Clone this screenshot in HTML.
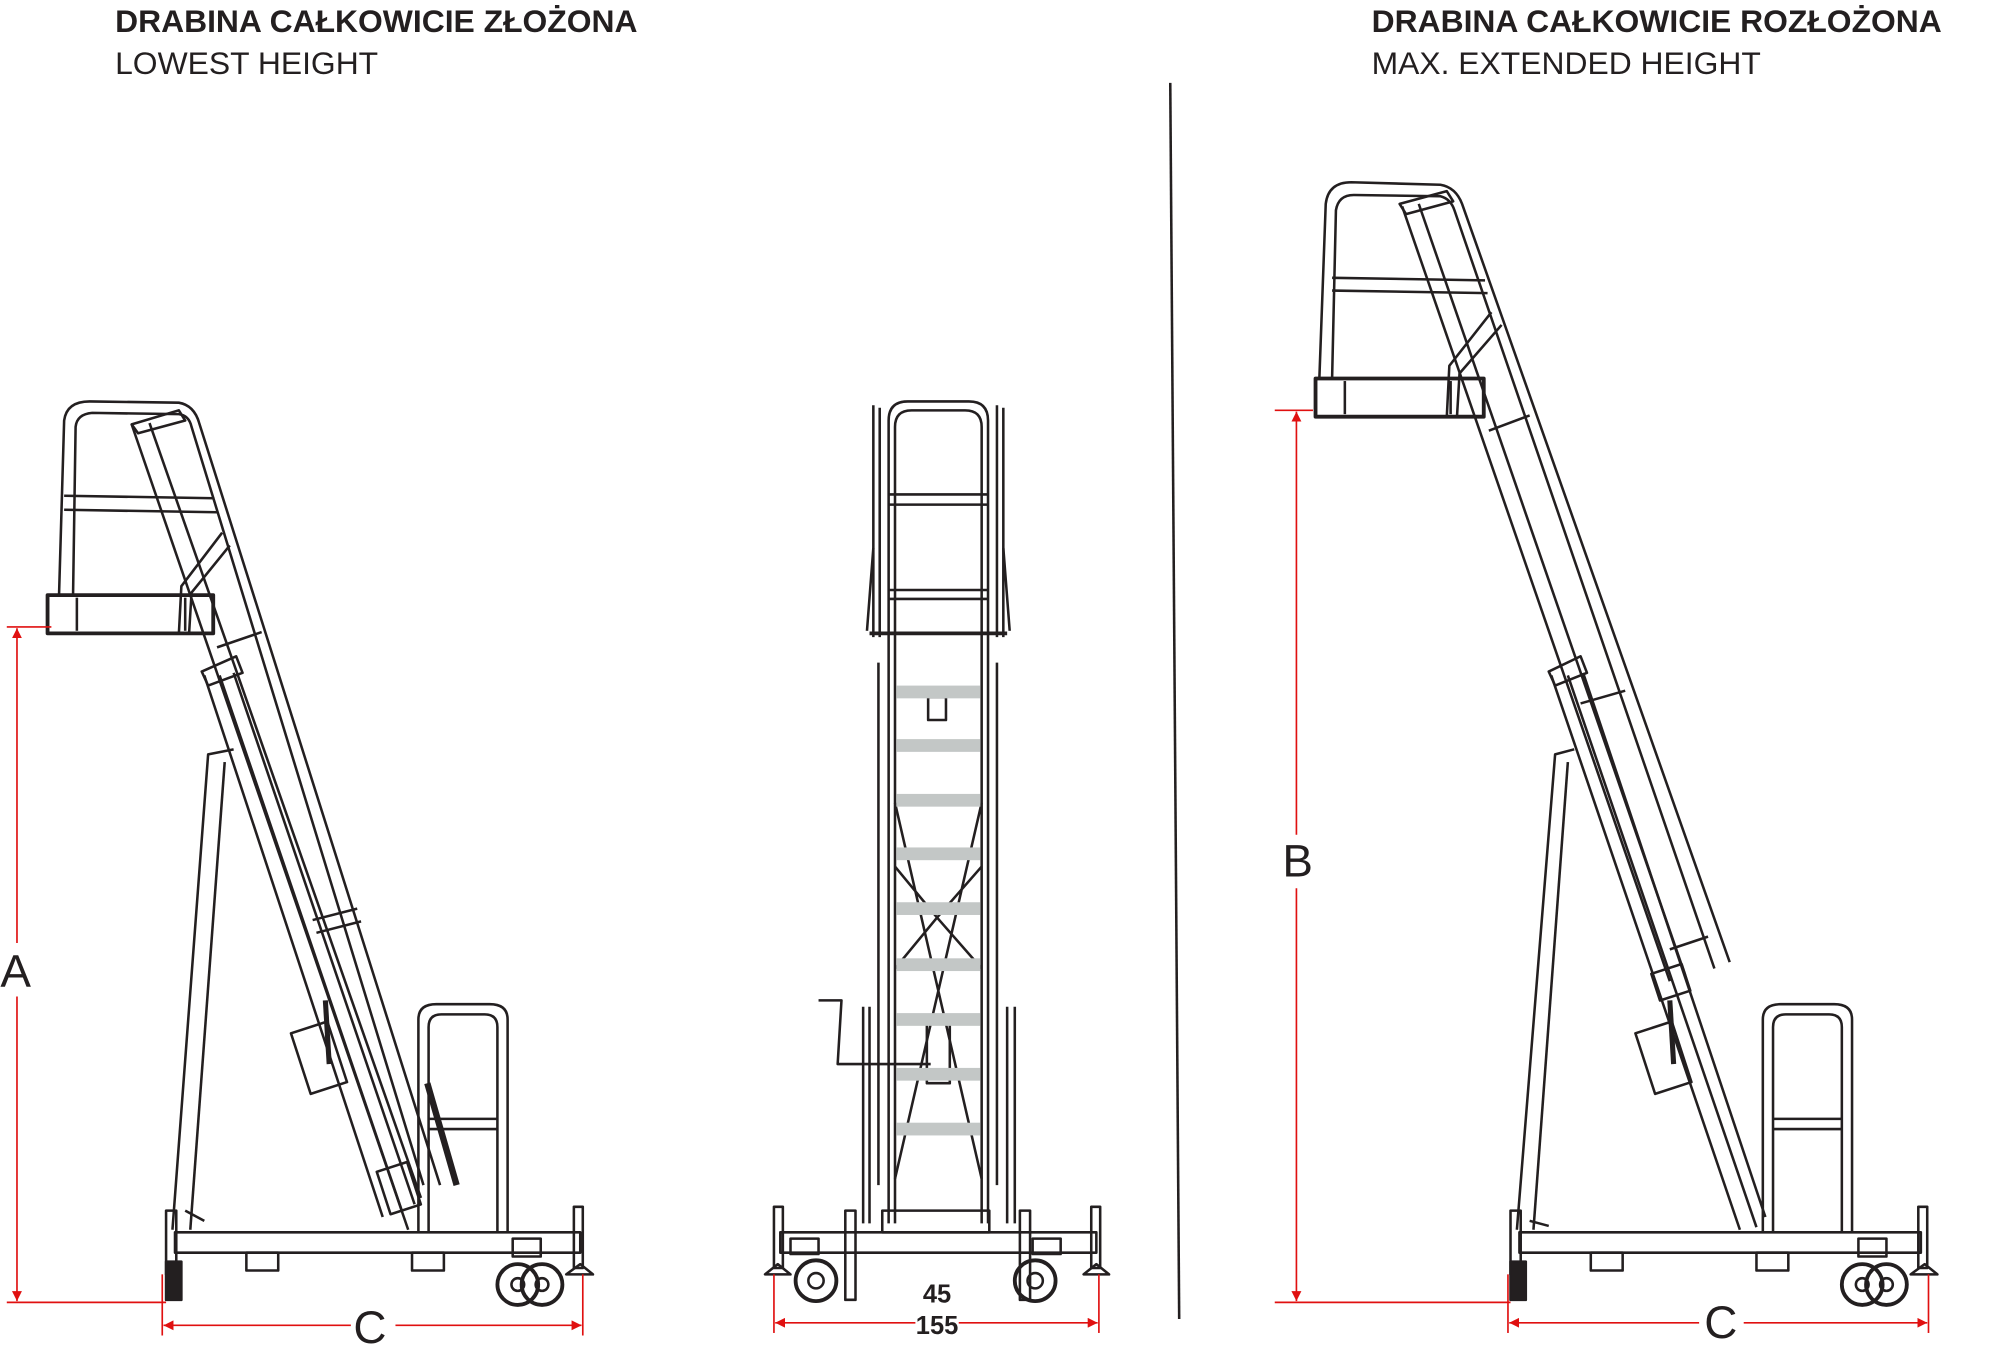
<!DOCTYPE html>
<html><head><meta charset="utf-8"><style>
html,body{margin:0;padding:0;background:#fff}
svg{display:block}
text{font-family:"Liberation Sans",sans-serif;fill:#231f20}
</style></head><body>
<svg width="1999" height="1361" viewBox="0 0 1568 1068" xmlns="http://www.w3.org/2000/svg">
<defs>
<marker id="ar" viewBox="0 0 10 10" refX="10" refY="5" markerWidth="6" markerHeight="6" orient="auto-start-reverse"><path d="M0,0L10,5L0,10z" fill="#e01010"/></marker>
</defs>
<text x="90" y="25" font-size="25" font-weight="bold">DRABINA CAŁKOWICIE ZŁOŻONA</text>
<text x="90" y="58" font-size="25">LOWEST HEIGHT</text>
<text x="1076" y="25" font-size="25" font-weight="bold">DRABINA CAŁKOWICIE ROZŁOŻONA</text>
<text x="1076" y="58" font-size="25">MAX. EXTENDED HEIGHT</text>
<line x1="918" y1="65" x2="925" y2="1035" stroke="#231f20" stroke-width="2"/>

<g fill="none" stroke="#231f20" stroke-width="2" stroke-linejoin="round">
<g id="L">
<path d="M46,467 L50,330 Q52,315 70,315 L140,316 Q152,318 156,332 L345,930"/>
<path d="M57,467 L59,335 Q60,325 72,324 L140,325 Q148,326 150,335 L332,930"/>
<path d="M103,333 L140,322 L145,330 L108,340z"/>
<line x1="103" y1="333" x2="320" y2="965"/>
<line x1="117" y1="332" x2="330" y2="940"/>
<line x1="50" y1="389" x2="168" y2="391"/><line x1="50" y1="400" x2="170" y2="402"/>
<path d="M180,428 L150,465 L148,498"/><path d="M174,418 L142,460 L140,498"/>
<rect x="37" y="467" width="130" height="30" stroke-width="3"/>
<line x1="60" y1="469" x2="60" y2="495"/><line x1="145" y1="469" x2="145" y2="495"/>
<path d="M158,527 L185,515 L190,528 L163,538z"/>
<line x1="160" y1="530" x2="300" y2="955"/><line x1="172" y1="530" x2="315" y2="950"/><line x1="183" y1="528" x2="325" y2="945"/>
<path d="M183,588 L163,592 L135,965"/><path d="M176,598 L149,965"/>
<path d="M245,722 L280,713"/><path d="M248,732 L283,723"/>
<path d="M170,508 L205,496"/>
<rect x="235" y="805" width="30" height="50" transform="rotate(-18 250 830)"/>
<line x1="255" y1="785" x2="258" y2="835" stroke-width="4"/>
<path d="M335,850 L358,930" stroke-width="5"/>
<rect x="300" y="915" width="25" height="35" transform="rotate(-18 312 932)"/>
<path d="M328,967 L328,800 Q328,788 342,788 L384,788 Q398,788 398,800 L398,967"/>
<path d="M336,967 L336,806 Q336,796 346,796 L380,796 Q390,796 390,806 L390,967"/>
<line x1="336" y1="878" x2="390" y2="878"/><line x1="336" y1="886" x2="390" y2="886"/>
<rect x="137" y="967" width="318" height="16"/>
<rect x="193" y="983" width="25" height="14"/><rect x="323" y="983" width="25" height="14"/>
<rect x="130" y="950" width="8" height="50"/><line x1="145" y1="950" x2="160" y2="958"/>
<rect x="450" y="947" width="7" height="48"/><path d="M444,1000 L465,1000 L455,992z"/>
<circle cx="406" cy="1008" r="16" stroke-width="3"/><circle cx="425" cy="1008" r="16" stroke-width="3"/>
<circle cx="406" cy="1008" r="5"/><circle cx="425" cy="1008" r="5"/>
<rect x="402" y="972" width="22" height="14"/>
<rect x="130" y="990" width="12" height="30" fill="#231f20"/>
</g>

<path d="M685,500 L685,318 M690,500 L690,320 M782,500 L782,318 M787,500 L787,320"/>
<path d="M697,960 L697,330 Q697,315 712,315 L760,315 Q775,315 775,330 L775,960"/>
<path d="M702,960 L702,335 Q702,322 715,322 L757,322 Q770,322 770,335 L770,960"/>
<line x1="697" y1="388" x2="775" y2="388"/><line x1="697" y1="396" x2="775" y2="396"/>
<line x1="697" y1="463" x2="775" y2="463"/><line x1="697" y1="470" x2="775" y2="470"/>
<line x1="682" y1="497" x2="790" y2="497" stroke-width="3"/>
<path d="M685,430 L680,495 M787,430 L792,495"/>
<path d="M689,520 L689,930 M782,520 L782,930"/>
<path d="M702,630 L770,925 M770,630 L702,925 M702,680 L735,720 L770,680 M702,760 L735,720 L770,760"/>
<rect x="728" y="547" width="14" height="18"/>
<path d="M642,785 L660,785 L657,835 L730,835"/>
<rect x="727" y="800" width="18" height="50"/>
<line x1="677" y1="790" x2="677" y2="960"/><line x1="682" y1="790" x2="682" y2="960"/>
<line x1="790" y1="790" x2="790" y2="960"/><line x1="796" y1="790" x2="796" y2="960"/>
<rect x="612" y="967" width="248" height="16"/>
<rect x="692" y="950" width="84" height="17"/>
<rect x="607" y="947" width="7" height="48"/><rect x="856" y="947" width="7" height="48"/>
<path d="M600,1000 L620,1000 L610,992z M850,1000 L870,1000 L860,992z"/>
<rect x="663" y="950" width="8" height="70"/><rect x="800" y="950" width="8" height="70"/>
<circle cx="640" cy="1005" r="16" stroke-width="3"/><circle cx="812" cy="1005" r="16" stroke-width="3"/>
<circle cx="640" cy="1005" r="6"/><circle cx="812" cy="1005" r="6"/>
<rect x="620" y="972" width="22" height="12"/><rect x="810" y="972" width="22" height="12"/>
</g>
<g fill="#c3c7c6">
<rect x="703" y="538" width="66" height="10"/><rect x="703" y="580" width="66" height="10"/>
<rect x="703" y="623" width="66" height="10"/><rect x="703" y="665" width="66" height="10"/>
<rect x="703" y="708" width="66" height="10"/><rect x="703" y="752" width="66" height="10"/>
<rect x="703" y="795" width="66" height="10"/><rect x="703" y="838" width="66" height="10"/>
<rect x="703" y="881" width="66" height="10"/>
</g>

<g fill="none" stroke="#231f20" stroke-width="2" stroke-linejoin="round">
<path d="M1035,297 L1040,160 Q1042,143 1060,143 L1130,145 Q1142,147 1147,160 L1357,755"/>
<path d="M1045,297 L1048,165 Q1050,153 1062,153 L1130,154 Q1138,156 1141,165 L1345,760"/>
<path d="M1098,160 L1135,150 L1140,158 L1103,168z"/>
<line x1="1100" y1="162" x2="1310" y2="770"/><line x1="1113" y1="160" x2="1322" y2="765"/>
<line x1="1045" y1="218" x2="1165" y2="220"/><line x1="1045" y1="228" x2="1167" y2="230"/>
<path d="M1178,255 L1145,293 L1143,327"/><path d="M1170,245 L1137,287 L1135,327"/>
<rect x="1032" y="297" width="132" height="30" stroke-width="3"/>
<line x1="1055" y1="299" x2="1055" y2="325"/><line x1="1138" y1="299" x2="1138" y2="325"/>
<path d="M1168,338 L1200,326"/>
<path d="M1215,527 L1240,515 L1245,528 L1220,538z"/>
<line x1="1217" y1="530" x2="1365" y2="965"/><line x1="1230" y1="530" x2="1378" y2="963"/><line x1="1242" y1="528" x2="1385" y2="955"/>
<path d="M1235,588 L1220,592 L1190,965"/><path d="M1230,598 L1203,965"/>
<path d="M1240,552 L1275,542"/><path d="M1310,745 L1340,735"/>
<rect x="1298" y="760" width="25" height="22" transform="rotate(-18 1310 770)"/>
<rect x="1290" y="805" width="30" height="50" transform="rotate(-18 1305 830)"/>
<line x1="1310" y1="785" x2="1313" y2="835" stroke-width="4"/>
<path d="M1383,967 L1383,800 Q1383,788 1397,788 L1439,788 Q1453,788 1453,800 L1453,967"/>
<path d="M1391,967 L1391,806 Q1391,796 1401,796 L1435,796 Q1445,796 1445,806 L1445,967"/>
<line x1="1391" y1="878" x2="1445" y2="878"/><line x1="1391" y1="886" x2="1445" y2="886"/>
<rect x="1192" y="967" width="315" height="16"/>
<rect x="1248" y="983" width="25" height="14"/><rect x="1378" y="983" width="25" height="14"/>
<rect x="1185" y="950" width="8" height="50"/><line x1="1200" y1="958" x2="1215" y2="962"/>
<rect x="1505" y="947" width="7" height="48"/><path d="M1499,1000 L1520,1000 L1510,992z"/>
<circle cx="1461" cy="1008" r="16" stroke-width="3"/><circle cx="1480" cy="1008" r="16" stroke-width="3"/>
<circle cx="1461" cy="1008" r="5"/><circle cx="1480" cy="1008" r="5"/>
<rect x="1458" y="972" width="22" height="14"/>
<rect x="1185" y="990" width="12" height="30" fill="#231f20"/>
</g>

<g stroke="#e01010" stroke-width="1.3" fill="none">
<line x1="5" y1="492" x2="40" y2="492"/><line x1="5" y1="1022" x2="130" y2="1022"/>
<line x1="13" y1="493" x2="13" y2="740" marker-start="url(#ar)"/><line x1="13" y1="782" x2="13" y2="1021" marker-end="url(#ar)"/>
<line x1="127" y1="1000" x2="127" y2="1048"/><line x1="457" y1="1000" x2="457" y2="1048"/>
<line x1="128" y1="1040" x2="275" y2="1040" marker-start="url(#ar)"/><line x1="310" y1="1040" x2="456" y2="1040" marker-end="url(#ar)"/>
<line x1="607" y1="1000" x2="607" y2="1046"/><line x1="862" y1="1000" x2="862" y2="1046"/>
<line x1="608" y1="1038" x2="718" y2="1038" marker-start="url(#ar)"/><line x1="752" y1="1038" x2="861" y2="1038" marker-end="url(#ar)"/>
<line x1="1000" y1="322" x2="1030" y2="322"/><line x1="1000" y1="1022" x2="1185" y2="1022"/>
<line x1="1017" y1="323" x2="1017" y2="655" marker-start="url(#ar)"/><line x1="1017" y1="697" x2="1017" y2="1021" marker-end="url(#ar)"/>
<line x1="1183" y1="1000" x2="1183" y2="1046"/><line x1="1513" y1="1000" x2="1513" y2="1046"/>
<line x1="1184" y1="1038" x2="1333" y2="1038" marker-start="url(#ar)"/><line x1="1368" y1="1038" x2="1512" y2="1038" marker-end="url(#ar)"/>
</g>
<text x="12" y="774" font-size="36" text-anchor="middle">A</text>
<text x="290" y="1054" font-size="36" text-anchor="middle">C</text>
<text x="1018" y="688" font-size="36" text-anchor="middle">B</text>
<text x="1350" y="1050" font-size="36" text-anchor="middle">C</text>
<text x="735" y="1022" font-size="20" font-weight="bold" text-anchor="middle">45</text>
<text x="735" y="1047" font-size="20" font-weight="bold" text-anchor="middle">155</text>
</svg>
</body></html>
